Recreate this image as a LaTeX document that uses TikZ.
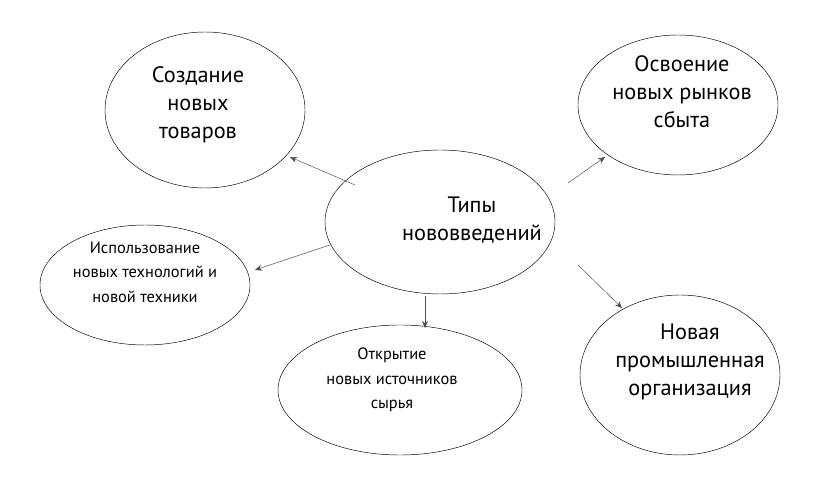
\documentclass[tikz,border=0pt]{standalone}
\usepackage{fontspec}
\setmainfont{PT Sans}
\usetikzlibrary{shapes.geometric,arrows.meta}

\begin{document}
\begin{tikzpicture}[x=0.03cm, y=-0.03cm,
  oval/.style = {ellipse, draw, thin, inner sep = 0pt},
  big/.style = {align = center, font = \fontsize{19}{24}\selectfont},
  small/.style = {align = center, font = \fontsize{14}{21}\selectfont},
  link/.style = {-{Stealth[length=6pt, width=5pt]}, gray!60!black}]
  \useasboundingbox (0,0) rectangle (827,489);
  \node (c) at (440,222) [oval, minimum width = 230*0.8536pt, minimum height = 144*0.8536pt] {};
  \node [big] at (472,220) {Типы\\ нововведений};
  \node (a) at (205,110) [oval, minimum width = 200*0.8536pt, minimum height = 156*0.8536pt] {};
  \node [big] at (198,105) {Создание\\ новых\\ товаров};
  \node (b) at (678,105) [oval, minimum width = 200*0.8536pt, minimum height = 140*0.8536pt] {};
  \node [big] at (682,92) {Освоение\\ новых рынков\\ сбыта};
  \node (d) at (145,285) [oval, minimum width = 210*0.8536pt, minimum height = 120*0.8536pt] {};
  \node [small] at (145,272) {Использование\\ новых технологий и\\ новой техники};
  \node (e) at (400,390) [oval, minimum width = 244*0.8536pt, minimum height = 130*0.8536pt] {};
  \node [small] at (392,380) {Открытие\\ новых источников\\ сырья};
  \node (f) at (680,375) [oval, minimum width = 200*0.8536pt, minimum height = 160*0.8536pt] {};
  \node [big] at (690,362) {Новая\\ промышленная\\ организация};
  % arrow starts on the centre oval
  \coordinate (sa) at (355,185);
  \coordinate (sb) at (568,183);
  \coordinate (sd) at (330,245);
  \coordinate (se) at (425,296);
  \coordinate (sf) at (578,265);
  % arrow ends
  \coordinate (ta) at (290,157);
  \coordinate (tb) at (605,157);
  \coordinate (td) at (255,270);
  \coordinate (te) at (425,328);
  \coordinate (tf) at (622,308);
  \draw [link] (sa) -- (ta);
  \draw [link] (sb) -- (tb);
  \draw [link] (sd) -- (td);
  \draw [link] (se) -- (te);
  \draw [link] (sf) -- (tf);
\end{tikzpicture}
\end{document}
